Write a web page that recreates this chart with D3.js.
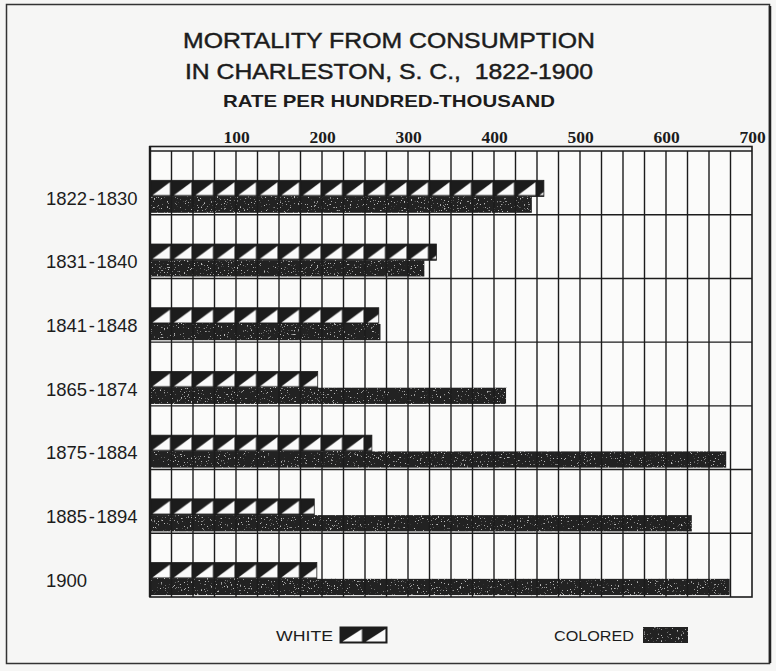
<!DOCTYPE html>
<html>
<head>
<meta charset="utf-8">
<script src="https://cdn.jsdelivr.net/npm/d3@7"></script>
<style>
  body { margin: 0; background: #f6f6f5; }
  svg { display: block; }
  .pre { white-space: pre; }
</style>
</head>
<body>
<div id="chart"></div>
<script>
// data
const periods = ['1822-1830', '1831-1840', '1841-1848', '1865-1874', '1875-1884', '1885-1894', '1900'];
const white = [458, 333, 266, 195, 258, 191, 194];
const colored = [444, 319, 268, 414, 670, 630, 674];
const tickValues = [100, 200, 300, 400, 500, 600, 700];
const titleLines = ['MORTALITY FROM CONSUMPTION', 'IN CHARLESTON, S. C.,  1822-1900', 'RATE PER HUNDRED-THOUSAND'];

const width = 776, height = 671;
const ink = '#1c1c1c';

const svg = d3.select('#chart').append('svg')
  .attr('width', width)
  .attr('height', height);

const defs = svg.append('defs');

// speckled dark fill for the "colored" bars
const speck = defs.append('filter').attr('id', 'speck')
  .attr('x', 0).attr('y', 0).attr('width', 1).attr('height', 1);
speck.append('feTurbulence')
  .attr('type', 'fractalNoise').attr('baseFrequency', 0.7)
  .attr('numOctaves', 2).attr('seed', 7).attr('result', 'noise');
speck.append('feColorMatrix').attr('in', 'noise').attr('type', 'matrix')
  .attr('values', '0 0 0 0 0.5  0 0 0 0 0.5  0 0 0 0 0.5  10 0 0 0 -6.6')
  .attr('result', 'dots');
const merge = speck.append('feMerge');
merge.append('feMergeNode').attr('in', 'SourceGraphic');
merge.append('feMergeNode').attr('in', 'dots');

// outer border
svg.append('rect')
  .attr('x', 6.5).attr('y', 4.5)
  .attr('width', 763).attr('height', 659)
  .attr('fill', 'none').attr('stroke', '#333').attr('stroke-width', 1.5);
svg.append('line')
  .attr('x1', 770).attr('x2', 770).attr('y1', 6).attr('y2', 663)
  .attr('stroke', '#222').attr('stroke-width', 2.5);

// titles
const titleSpec = [
  { y: 48, size: 22, len: 412 },
  { y: 79, size: 22, len: 408 },
  { y: 107, size: 16.5, len: 332 }
];
svg.selectAll('.title')
  .data(titleLines)
  .enter()
  .append('text')
  .attr('class', 'title pre')
  .attr('x', 389)
  .attr('y', (d, i) => titleSpec[i].y)
  .attr('text-anchor', 'middle')
  .attr('textLength', (d, i) => titleSpec[i].len)
  .attr('lengthAdjust', 'spacingAndGlyphs')
  .style('font-family', 'Liberation Sans, Arial, sans-serif')
  .style('font-size', (d, i) => titleSpec[i].size + 'px')
  .style('font-weight', (d, i) => i === 2 ? 'bold' : 'normal')
  .style('fill', ink)
  .style('stroke', ink)
  .style('stroke-width', (d, i) => i === 2 ? 0 : 0.45)
  .text(d => d);

// scales
const plotTop = 151, plotBottom = 597, plotLeft = 150, plotRight = 752;
const x = d3.scaleLinear().domain([0, 700]).range([plotLeft, plotRight]);
const y = d3.scaleBand().domain(periods).range([plotTop, plotBottom]).paddingInner(0);
const bw = y.bandwidth();
const step = 25;
const cellW = x(step) - x(0);

// plot background
svg.append('rect')
  .attr('x', plotLeft).attr('y', plotTop)
  .attr('width', plotRight - plotLeft).attr('height', plotBottom - plotTop)
  .attr('fill', '#fbfbfa');

// striped pattern for "white" bars, one per row so it lines up with the bar
const whiteTop = p => y(p) + bw * 0.46;
const barH = bw * 0.255;
const coloredTop = p => y(p) + bw * 0.715;

const pats = defs.selectAll('.wpat')
  .data(periods)
  .enter()
  .append('pattern')
  .attr('class', 'wpat')
  .attr('id', (d, i) => 'wp' + i)
  .attr('patternUnits', 'userSpaceOnUse')
  .attr('x', x(0))
  .attr('y', d => whiteTop(d))
  .attr('width', cellW)
  .attr('height', barH);
pats.append('rect')
  .attr('width', cellW).attr('height', barH).attr('fill', ink);
pats.append('path')
  .attr('d', `M2.5,${barH - 1.5}L${cellW - 1.5},2L${cellW - 1.5},${barH - 1.5}Z`)
  .attr('fill', '#fafafa');

// bars
svg.selectAll('.bar-white')
  .data(periods)
  .enter()
  .append('rect')
  .attr('class', 'bar-white')
  .attr('x', x(0))
  .attr('y', d => whiteTop(d))
  .attr('width', (d, i) => x(white[i]) - x(0))
  .attr('height', barH)
  .attr('fill', (d, i) => `url(#wp${i})`)
  .attr('stroke', ink).attr('stroke-width', 0.8);

svg.selectAll('.bar-colored')
  .data(periods)
  .enter()
  .append('rect')
  .attr('class', 'bar-colored')
  .attr('x', x(0))
  .attr('y', d => coloredTop(d))
  .attr('width', (d, i) => x(colored[i]) - x(0))
  .attr('height', barH)
  .attr('fill', '#222')
  .attr('filter', 'url(#speck)');

// grid: vertical lines every 25
const gridVals = d3.range(step, 700, step);
svg.selectAll('.vgrid')
  .data(gridVals)
  .enter()
  .append('line')
  .attr('class', 'vgrid')
  .attr('x1', d => x(d)).attr('x2', d => x(d))
  .attr('y1', plotTop).attr('y2', plotBottom)
  .attr('stroke', ink).attr('stroke-width', 1.4);

// horizontal row separators
svg.selectAll('.hgrid')
  .data(periods.slice(1))
  .enter()
  .append('line')
  .attr('class', 'hgrid')
  .attr('x1', plotLeft).attr('x2', plotRight)
  .attr('y1', d => y(d)).attr('y2', d => y(d))
  .attr('stroke', ink).attr('stroke-width', 1.4);

// frame with the double top rule
const frame = svg.append('g').attr('stroke', ink).attr('fill', 'none');
frame.append('rect')
  .attr('x', plotLeft).attr('y', 146.5)
  .attr('width', plotRight - plotLeft).attr('height', plotBottom - 146.5)
  .attr('stroke-width', 1.6);
frame.append('line')
  .attr('x1', plotLeft).attr('x2', plotRight)
  .attr('y1', plotTop).attr('y2', plotTop)
  .attr('stroke-width', 1.3);
frame.append('line')
  .attr('x1', plotLeft).attr('x2', plotLeft)
  .attr('y1', 146).attr('y2', plotBottom)
  .attr('stroke-width', 2.4);

// top axis labels
const xAxis = d3.axisTop(x).tickValues(tickValues).tickSize(0).tickPadding(0);
const ax = svg.append('g')
  .attr('transform', `translate(0,${143})`)
  .call(xAxis);
ax.select('.domain').remove();
ax.selectAll('text')
  .style('font-family', 'Liberation Serif, DejaVu Serif, serif')
  .style('font-size', '17.5px')
  .style('font-weight', 'bold')
  .style('fill', ink)
  .attr('dy', 0);

// row labels, left aligned as on the plate
svg.selectAll('.ylab')
  .data(periods)
  .enter()
  .append('text')
  .attr('class', 'ylab pre')
  .attr('x', 46)
  .attr('y', d => coloredTop(d) + 8)
  .attr('text-anchor', 'start')
  .style('font-family', 'Liberation Sans, Arial, sans-serif')
  .style('font-size', '18.5px')
  .style('fill', ink)
  .text(d => d.replace('-', '\u200A-\u200A'));

// legend
const legend = svg.append('g')
  .style('font-family', 'Liberation Sans, Arial, sans-serif')
  .style('font-size', '15px')
  .style('fill', ink);
legend.append('text')
  .attr('x', 333).attr('y', 641).attr('text-anchor', 'end')
  .attr('textLength', 57).attr('lengthAdjust', 'spacingAndGlyphs')
  .text('WHITE');
legend.append('text')
  .attr('x', 634).attr('y', 641).attr('text-anchor', 'end')
  .attr('textLength', 80).attr('lengthAdjust', 'spacingAndGlyphs')
  .text('COLORED');

const lp = defs.append('pattern')
  .attr('id', 'legpat').attr('patternUnits', 'userSpaceOnUse')
  .attr('x', 340).attr('y', 627).attr('width', 23.5).attr('height', 16);
lp.append('rect').attr('width', 23.5).attr('height', 16).attr('fill', ink);
lp.append('path').attr('d', 'M2.5,14.5L22,2L22,14.5Z').attr('fill', '#fafafa');
legend.append('rect')
  .attr('x', 340).attr('y', 627).attr('width', 47).attr('height', 16)
  .attr('fill', 'url(#legpat)').attr('stroke', ink).attr('stroke-width', 1);
legend.append('rect')
  .attr('x', 643).attr('y', 627).attr('width', 45).attr('height', 16)
  .attr('fill', '#222').attr('filter', 'url(#speck)');
</script>
</body>
</html>
